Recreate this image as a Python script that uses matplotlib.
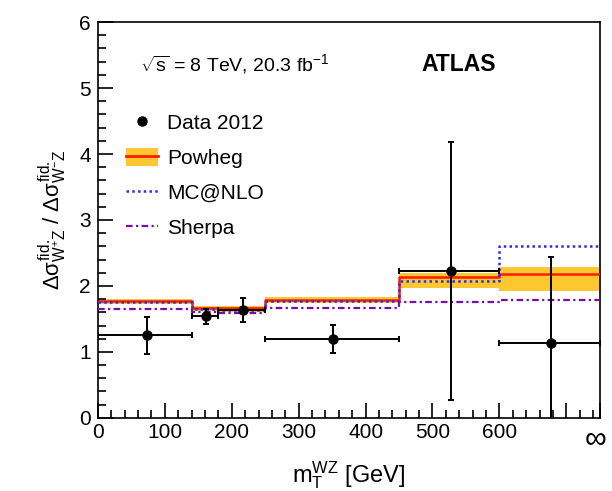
import numpy as np
import matplotlib
matplotlib.use('Agg')
import matplotlib.pyplot as plt
import matplotlib.transforms as mtransforms
from matplotlib.lines import Line2D
from matplotlib.patches import Patch
from matplotlib.ticker import MultipleLocator, FixedLocator, FixedFormatter

plt.rcParams['font.family'] = ['Liberation Sans', 'DejaVu Sans']
plt.rcParams['mathtext.fontset'] = 'custom'
plt.rcParams['mathtext.rm'] = 'Liberation Sans'
plt.rcParams['mathtext.it'] = 'Liberation Sans'

# bin edges in m_T^WZ (last bin goes to infinity, drawn up to 750)
edges = [0, 140, 180, 250, 450, 600, 750]

# data 2012
data_x = [73, 161, 217, 351, 527, 677]
data_y = [1.26, 1.55, 1.64, 1.20, 2.23, 1.14]
data_up = [1.53, 1.65, 1.82, 1.41, 4.18, 2.44]
data_dn = [0.97, 1.43, 1.45, 0.98, 0.27, -0.5]

# predictions
powheg = [1.77, 1.67, 1.66, 1.79, 2.13, 2.18]
powheg_hi = [1.80, 1.70, 1.69, 1.83, 2.19, 2.28]
powheg_lo = [1.72, 1.62, 1.61, 1.74, 1.97, 1.92]
mcnlo = [1.76, 1.65, 1.64, 1.77, 2.08, 2.61]
sherpa = [1.65, 1.60, 1.59, 1.67, 1.76, 1.78]

xticks = [0, 100, 200, 300, 400, 500, 600, 700, 750]
xlabels = ['0', '100', '200', '300', '400', '500', '600', '', r'$\infty$']


def steps(vals):
    return np.append(vals, vals[-1])


fig = plt.figure(figsize=(6.12, 4.91), dpi=100)
ax = fig.add_axes([0.160, 0.149, 0.820, 0.806])

e = np.array(edges)
ax.fill_between(e, steps(powheg_lo), steps(powheg_hi), step='post',
                color='#fdc72f', lw=0, zorder=1)
ax.step(e, steps(powheg), where='post', color='#ff1a00', lw=1.8, zorder=3)
ax.step(e, steps(mcnlo), where='post', color='#2b2bf0', lw=1.8,
        ls=(0, (1, 1.3)), zorder=4)
ax.step(e, steps(sherpa), where='post', color='#7010a8', lw=1.6,
        ls=(0, (3, 1.5, 1, 1.5)), zorder=4)

x = np.array(data_x)
y = np.array(data_y)
xerr = [x - e[:-1], e[1:] - x]
yerr = [y - np.array(data_dn), np.array(data_up) - y]
ax.errorbar(x, y, xerr=xerr, yerr=yerr, fmt='o', color='black', ms=6.5,
            elinewidth=1.4, capsize=2.5, capthick=1.4, zorder=5)

ax.set_xlim(0, 750)
ax.set_ylim(0, 6)
ax.xaxis.set_major_locator(FixedLocator(xticks))
ax.xaxis.set_major_formatter(FixedFormatter(xlabels))
ax.xaxis.set_minor_locator(MultipleLocator(20))
ax.yaxis.set_major_locator(MultipleLocator(1))
ax.yaxis.set_minor_locator(MultipleLocator(0.2))
ax.tick_params(axis='both', which='major', direction='in', length=11,
               width=1.2, labelsize=15, pad=5)
ax.tick_params(axis='both', which='minor', direction='in', length=6, width=1.2)
ax.tick_params(axis='x', which='major', pad=4)
shift = mtransforms.ScaledTranslation(-3 / 72, 0, fig.dpi_scale_trans)
for lbl in ax.get_xticklabels():
    if lbl.get_text() == r'$\infty$':
        lbl.set_fontsize(22)
        lbl.set_transform(lbl.get_transform() + shift)
for s in ax.spines.values():
    s.set_linewidth(1.2)

ax.set_xlabel(r'm$_{\mathrm{T}}^{\mathrm{WZ}}$ [GeV]', fontsize=17, labelpad=4)
ax.set_ylabel(r'$\Delta\sigma^{\mathrm{fid.}}_{\mathrm{W^{+}Z}}$ / '
              r'$\Delta\sigma^{\mathrm{fid.}}_{\mathrm{W^{-}Z}}$',
              fontsize=16, labelpad=8)

ax.text(0.084, 0.877, r'$\sqrt{\mathrm{s}}$ = 8 TeV, 20.3 fb$^{\mathrm{-1}}$',
        transform=ax.transAxes, fontsize=14)
ax.text(0.645, 0.877, 'ATLAS', transform=ax.transAxes, fontsize=16.5,
        fontweight='bold')

handles = [
    Line2D([], [], ls='none', marker='o', color='black', ms=6.5),
    (Patch(color='#fdc72f', lw=0), Line2D([], [], color='#ff1a00', lw=2)),
    Line2D([], [], color='#2b2bf0', lw=1.8, ls=(0, (1, 1.3))),
    Line2D([], [], color='#7010a8', lw=1.6, ls=(0, (3, 1.5, 1, 1.5))),
]
labels = ['Data 2012', 'Powheg', 'MC@NLO', 'Sherpa']
ax.legend(handles, labels, loc='upper left', bbox_to_anchor=(0.04, 0.79),
          frameon=False, fontsize=15, handlelength=1.5, handleheight=0.9,
          handletextpad=0.45, labelspacing=0.72, borderaxespad=0)

fig.savefig('out.png', dpi=100)
